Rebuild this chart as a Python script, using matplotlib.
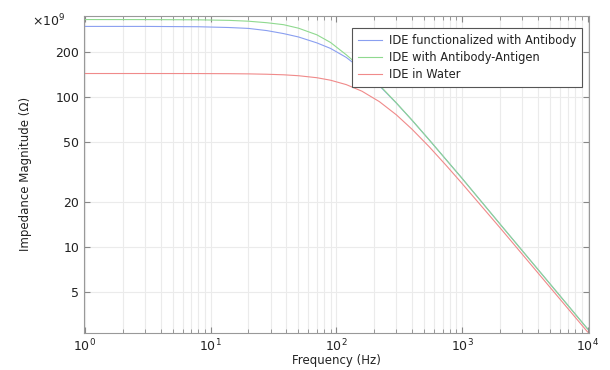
import numpy as np
import matplotlib
matplotlib.use("Agg")
import matplotlib.pyplot as plt
from matplotlib.ticker import FixedLocator, NullFormatter, LogLocator

# frequency points (Hz) and impedance magnitudes (x1e9 Ohm)
freq = [1, 3, 8, 14, 20, 28, 38, 50, 70, 90, 120, 160, 220, 300, 400, 550, 750, 1000, 2000, 5000, 10000]
z_antibody = [297, 297, 295.5, 292, 288, 278.5, 266, 252.5, 230.6, 211.7, 184.4, 152.9, 119.4,
              91.5, 70.3, 51.8, 38.2, 28.8, 14.3, 5.7, 2.84]
z_antigen = [330, 329.8, 328.6, 325.9, 321.7, 314.3, 305, 289, 261, 232, 192, 156, 120.5,
             91.8, 70.4, 51.8, 38.2, 28.8, 14.3, 5.7, 2.84]
z_water = [144, 144, 143.9, 143.6, 143.2, 142.4, 141.2, 139.2, 135.0, 129.9, 121.4, 109.7, 93.5,
           76.4, 61.2, 46.6, 35.0, 26.6, 13.5, 5.41, 2.71]

labels = ["IDE functionalized with Antibody", "IDE with Antibody-Antigen", "IDE in Water"]
colors = ["#8a9ff0", "#8fd98f", "#f08a8a"]
yticks = [5, 10, 20, 50, 100, 200]

fig = plt.figure(figsize=(6.1, 3.7), dpi=100)
ax = fig.add_axes([0.138, 0.1, 0.828, 0.858])

for z, c, lab in zip([z_antibody, z_antigen, z_water], colors, labels):
    ax.plot(freq, z, color=c, lw=0.8, label=lab)

ax.set_xscale("log")
ax.set_yscale("log")
ax.set_xlim(0.985, 1.03e4)
ax.set_ylim(2.67, 351)

ax.yaxis.set_major_locator(FixedLocator(yticks))
ax.yaxis.set_minor_locator(FixedLocator([]))
ax.set_yticklabels([str(t) for t in yticks])
ax.xaxis.set_major_locator(LogLocator(base=10))
ax.xaxis.set_minor_locator(LogLocator(base=10, subs=np.arange(2, 10)))
ax.xaxis.set_minor_formatter(NullFormatter())

ax.grid(True, which="major", color="#ebebeb", lw=0.8)
ax.grid(True, which="minor", axis="x", color="#ebebeb", lw=0.8)

ax.tick_params(which="both", direction="in", top=True, right=True, color="#888888",
               labelsize=9, labelcolor="#222222")
ax.tick_params(which="major", length=4)
ax.tick_params(which="minor", length=3)
for s in ax.spines.values():
    s.set_color("#999999")

ax.set_xlabel("Frequency (Hz)", fontsize=8.5, labelpad=0, color="#222222")
ax.set_ylabel("Impedance Magnitude (Ω)", fontsize=8.5, labelpad=17, color="#222222")
fig.text(32 / 610, 1 - 21 / 370, "×10$^9$", fontsize=9, ha="left", va="center",
         color="#222222")

leg = ax.legend(loc="upper right", bbox_to_anchor=(0.986, 0.961), borderaxespad=0,
                fontsize=8.3, fancybox=False, framealpha=1, edgecolor="#555555",
                handlelength=2.1, handletextpad=0.6, borderpad=0.5, labelspacing=0.35)
leg.get_frame().set_linewidth(0.8)
for t in leg.get_texts():
    t.set_color("#222222")

fig.savefig("out.png", dpi=100)
